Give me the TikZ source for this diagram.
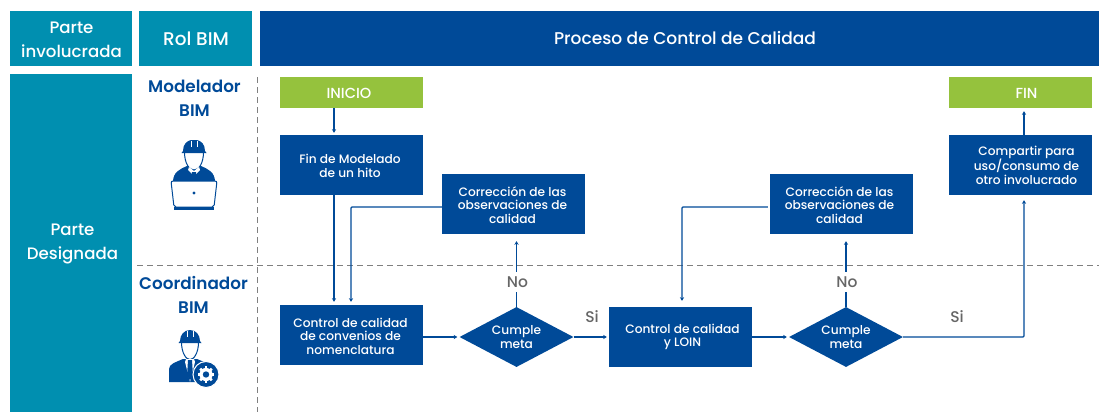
\documentclass[tikz,border=0pt]{standalone}
\usepackage{fontspec}
\setmainfont{Poppins}[UprightFont=* Medium,BoldFont=* SemiBold]
\usetikzlibrary{arrows.meta,shapes.geometric}
\definecolor{bimblue}{HTML}{004A98}
\definecolor{bimteal}{HTML}{008FB0}
\definecolor{bimgreen}{HTML}{95C23D}
\definecolor{bimgrey}{HTML}{666666}
\definecolor{bimdash}{HTML}{808080}
\tikzset{
  x=1pt,y=-1pt,
  panel/.style={rectangle,inner sep=0pt,text=white,align=center,anchor=center},
  head/.style={panel,font=\fontsize{16.6}{24.3}\selectfont},
  tealpanel/.style={head,fill=bimteal},
  bluepanel/.style={head,fill=bimblue},
  bluebox/.style={panel,fill=bimblue,minimum width=143pt,minimum height=60pt},
  greenbox/.style={panel,fill=bimgreen,minimum width=143pt,minimum height=31pt},
  boxtext/.style={text=white,align=center,inner sep=0pt,font=\fontsize{12.2}{13.5}\selectfont},
  greentext/.style={text=white,align=center,inner sep=0pt,font=\fontsize{14.6}{15}\selectfont},
  decision/.style={diamond,aspect=1.9,inner sep=0pt,fill=bimblue,minimum width=114pt,minimum height=60pt,text=white,align=center,font=\fontsize{12.2}{13.5}\selectfont},
  role/.style={text=bimblue,align=center,inner sep=0pt,font=\fontsize{16.8}{24}\selectfont\bfseries},
  answer/.style={text=bimgrey,inner sep=1.5pt,font=\fontsize{15.5}{16}\selectfont},
  flow/.style={draw=bimblue,line width=1.3pt,-{Stealth[length=3.6pt,width=4.2pt]}},
  lane/.style={draw=bimdash,line width=0.9pt,dash pattern=on 6pt off 4pt},
  icon/.style={fill=bimblue,draw=none},
  iconline/.style={draw=bimblue,line width=1pt,fill=white},
}
\begin{document}
\begin{tikzpicture}
\useasboundingbox (0,0) rectangle (1099,412);
% headers
\node[tealpanel,minimum width=122pt,minimum height=55pt,label={[head,xshift=0.5pt,yshift=-1pt]center:{Parte\\involucrada}}] (hparte) at (71,38.5) {};
\node[tealpanel,minimum width=113pt,minimum height=55pt,label={[head,font=\fontsize{18.4}{23}\selectfont,xshift=0.5pt]center:{Rol BIM}}] (hrol) at (195.5,38.5) {};
\node[bluepanel,minimum width=839pt,minimum height=55pt,label={[head,font=\fontsize{17.05}{23}\selectfont,xshift=5.5pt]center:{Proceso de Control de Calidad}}] (hproc) at (679.5,38.5) {};
\node[tealpanel,minimum width=122pt,minimum height=338pt,label={[head,xshift=1.5pt,yshift=-1pt]center:{Parte\\Designada}}] (designada) at (71,243) {};
% lanes
\coordinate (vt) at (257,77);
\coordinate (vb) at (257,412);
\coordinate (hl) at (137,265.5);
\coordinate (hr) at (1099,265.5);
\draw[lane] (vt) -- (vb);
\draw[lane] (hl) -- (hr);
% roles
\node[role] (rmod) at (194.5,98) {Modelador\\BIM};
\node[role] (rcoo) at (193.5,295) {Coordinador\\BIM};
% process boxes
\node[greenbox,label={[greentext,xshift=-2.5pt,yshift=-0.5pt]center:INICIO}] (inicio) at (351.5,92.5) {};
\node[greenbox,label={[greentext,xshift=6pt,yshift=-0.5pt]center:FIN}] (fin) at (1020.5,92.5) {};
\node[bluebox,label={[boxtext,xshift=-1.5pt,yshift=-1pt]center:{Fin de Modelado\\de un hito}}] (hito) at (351.5,165) {};
\node[bluebox,label={[boxtext,xshift=6pt]center:{Compartir para\\uso/consumo de\\otro involucrado}}] (comp) at (1020.5,165) {};
\node[bluebox,label={[boxtext,xshift=-1pt,yshift=-1pt]center:{Corrección de las\\observaciones de\\calidad}}] (corrA) at (513.5,204) {};
\node[bluebox,label={[boxtext,xshift=-2pt,yshift=-1pt]center:{Corrección de las\\observaciones de\\calidad}}] (corrB) at (841.5,204) {};
\node[bluebox,label={[boxtext,xshift=-1pt,yshift=-1pt]center:{Control de calidad\\de convenios de\\nomenclatura}}] (ctrlA) at (351.5,335) {};
\node[bluebox,label={[boxtext,xshift=2pt]center:{Control de calidad\\y LOIN}}] (ctrlB) at (680.5,337) {};
\node[decision] (decA) at (516.5,337) {Cumple\\meta};
\node[decision] (decB) at (846,337) {Cumple\\meta};
% connector guide coordinates
\coordinate (xa) at (334,0);
\coordinate (xb) at (351,0);
\coordinate (xc) at (682,0);
\coordinate (xd) at (1024,0);
\coordinate (ya) at (0,207);
% connectors
\draw[flow,shorten >=2pt] (inicio.south -| xa) -- (hito.north -| xa);
\draw[flow,shorten >=3pt] (hito.south -| xa) -- (ctrlA.north -| xa);
\draw[flow,shorten >=3pt,rounded corners=1pt] (corrA.west |- ya) -- (xb |- ya) -- (ctrlA.north -| xb);
\draw[flow,shorten >=2pt] (ctrlA.east |- decA.west) -- (decA.west);
\draw[flow,shorten >=2pt] (decA.east) -- (ctrlB.west);
\draw[flow,shorten >=2pt] (ctrlB.east) -- (decB.west);
\draw[flow,shorten >=7pt] (decA.north) -- (corrA.south -| decA.north);
\draw[flow,shorten >=7pt] (decB.north) -- (corrB.south -| decB.north);
\draw[flow,shorten <=2pt,shorten >=6pt,rounded corners=1pt] (corrB.west |- ya) -- (xc |- ya) -- (ctrlB.north -| xc);
\draw[flow,shorten >=5pt,rounded corners=1pt] (decB.east) -- (xd |- decB.east) -- (comp.south -| xd);
\draw[flow,shorten >=3pt] (comp.north -| xd) -- (fin.south -| xd);
% answers
\node[answer,fill=white,minimum height=20pt] (noA) at (517.5,282) {No};
\node[answer,fill=white,minimum height=20pt] (noB) at (847,282) {No};
\node[answer] (siA) at (592,317) {Si};
\node[answer] (siB) at (957,317) {Si};
% modelador icon
\begin{scope}[shift={(194,0)}]
  \path[icon] (-21,182) .. controls (-21,172) and (-14,169) .. (-7,166) -- (7,166) .. controls (14,169) and (21,172) .. (21,182) -- cycle;
  \path[draw=bimblue,line width=1pt,fill=white] (-9.5,152) .. controls (-9.5,163) and (-5,170) .. (0,170) .. controls (5,170) and (9.5,163) .. (9.5,152) -- cycle;
  \path[fill=white] (-5,167) -- (0,171) -- (5,167) -- (6,170) -- (0,176) -- (-6,170) -- cycle;
  \path[icon] (-2,172) -- (2,172) -- (3,181) -- (-3,181) -- cycle;
  \path[icon] (-11,151) .. controls (-11,144) and (-7,141) .. (-3,140) -- (3,140) .. controls (7,141) and (11,144) .. (11,151) -- (12.5,153) -- (-12.5,153) -- cycle;
  \draw[white,line width=0.5pt] (-3,140.5) -- (-3,147) (3,140.5) -- (3,147);
  \path[iconline,line width=1pt,rounded corners=2pt] (-23,181) -- (23,181) -- (20,207) -- (-20,207) -- cycle;
  \path[icon] (-20,207) rectangle (20,209.5);
  \fill[bimblue] (0,193) circle (1.6);
\end{scope}
% coordinador icon
\begin{scope}[shift={(190,0)}]
  \path[icon] (-21,382) -- (-21,369) .. controls (-21,364) and (-14,362) .. (-7,359) -- (7,359) .. controls (14,362) and (21,364) .. (21,369) -- (21,382) -- cycle;
  \path[draw=bimblue,line width=1pt,fill=white] (-8.5,342) .. controls (-8.5,353) and (-4,359.5) .. (0,359.5) .. controls (4,359.5) and (8.5,353) .. (8.5,342) -- cycle;
  \path[fill=white] (-4,359) -- (4,359) -- (5,362) -- (0,382) -- (-5,362) -- cycle;
  \path[icon] (-2,360) -- (2,360) -- (3,376) -- (0,380) -- (-3,376) -- cycle;
  \path[icon] (-10,341) .. controls (-10,335) and (-6,330) .. (0,330) .. controls (6,330) and (10,335) .. (10,341) -- (11.5,343) -- (-11.5,343) -- cycle;
  \draw[white,line width=0.5pt] (-3,330.5) -- (-3,337) (3,330.5) -- (3,337);
\end{scope}
\fill[bimblue,draw=white,line width=1pt] (206,374.5) circle (13);
\foreach \a in {0,45,...,315}
  \draw[white,line width=2.6pt] (206,374.5) -- ++(\a:8.2);
\fill[white] (206,374.5) circle (6.6);
\fill[bimblue] (206,374.5) circle (3.2);
\end{tikzpicture}
\end{document}
